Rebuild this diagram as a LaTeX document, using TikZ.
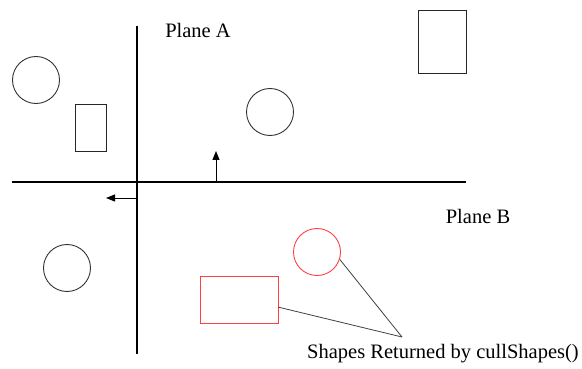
\documentclass[tikz,border=0pt]{standalone}
\usepackage{fontspec}
\setmainfont{Liberation Serif}
\usetikzlibrary{arrows.meta}
\begin{document}
\begin{tikzpicture}[x=1pt,y=-1pt,
  axis/.style={line width=1.1pt,black},
  shapecirc/.style={circle,draw=black!80,line width=0.9pt,minimum size=47pt,inner sep=0pt},
  shaperect/.style={rectangle,draw=black!85,line width=0.9pt,inner sep=0pt},
  culled/.style={draw=red!75},
  pointer/.style={line width=0.8pt,black!75},
  normal/.style={line width=1pt,-{Triangle[length=9pt,width=7pt]}},
  lbl/.style={font=\fontsize{20.5}{24}\selectfont,inner sep=0pt}]
\useasboundingbox (0,0) rectangle (582,369);
% axes
\coordinate (vtop) at (137,26);
\coordinate (vbot) at (137,354);
\coordinate (hl) at (12,182);
\coordinate (hr) at (466,182);
\draw[axis] (vtop) -- (vbot);
\draw[axis] (hl) -- (hr);
% normals
\coordinate (na) at (216,182);
\coordinate (natip) at (216,151);
\draw[normal] (na) -- (natip);
\coordinate (nb) at (137,198);
\coordinate (nbtip) at (106,198);
\draw[normal] (nb) -- (nbtip);
% labels
\node[lbl] (planeA) at (198,30) {Plane A};
\node[lbl] (planeB) at (478,216) {Plane B};
\node[lbl] (culltxt) at (443,354) {Shapes Returned by cullShapes()};
% shapes
\node[shapecirc] (c1) at (36,80) {};
\node[shaperect,minimum width=31pt,minimum height=47pt] (r1) at (90.5,127.5) {};
\node[shapecirc] (c2) at (270,112) {};
\node[shaperect,minimum width=48pt,minimum height=63pt] (r2) at (442,41.5) {};
\node[shapecirc] (c3) at (67,268) {};
\node[shaperect,culled,minimum width=78pt,minimum height=47pt] (rr) at (239,299.5) {};
\node[shapecirc,culled] (rc) at (317,252) {};
% pointer lines
\coordinate (ptip) at (402,337);
\draw[pointer] (rc.-18) -- (ptip);
\draw[pointer] (rr.-11) -- (ptip);
\end{tikzpicture}
\end{document}
